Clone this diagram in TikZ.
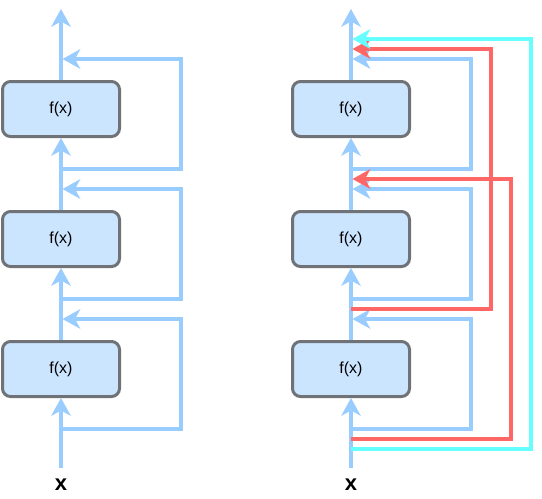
\documentclass[tikz,border=0pt]{standalone}
\usepackage{fontspec}
\setmainfont{Liberation Sans}
\usetikzlibrary{arrows.meta}
\definecolor{flowblue}{HTML}{99CCFF}
\definecolor{skipred}{HTML}{FF6666}
\definecolor{skipcyan}{HTML}{66FFFF}
\definecolor{boxfill}{HTML}{CCE5FF}
\definecolor{boxline}{HTML}{6F7377}
\tikzset{
  fx/.style={draw=boxline, fill=boxfill, line width=3pt, rounded corners=8pt,
    minimum width=117pt, minimum height=55pt, inner sep=0pt,
    font=\fontsize{16}{18}\selectfont},
  flow/.style={draw=flowblue, line width=4pt,
    -{Stealth[length=18pt,width=20pt,inset=5.5pt,line width=0pt]}},
  skipb/.style={flow},
  skipr/.style={flow, draw=skipred},
  skipc/.style={flow, draw=skipcyan},
  lbl/.style={font=\bfseries\fontsize{22}{24}\selectfont, inner sep=0pt}
}
\begin{document}
\begin{tikzpicture}[x=1pt,y=-1pt]
\useasboundingbox (0,0) rectangle (542,499);

% ---------- left column ----------
\node[fx] (a1) at (61,369) {f(x)};
\node[fx] (a2) at (61,239) {f(x)};
\node[fx] (a3) at (61,109) {f(x)};
\node[lbl] (xa) at (61,485) {x};
\coordinate (ain) at (61,468);
\coordinate (aout) at (61,9);

\draw[flow] (ain) -- (a1.south);
\draw[flow] (a1.north) -- (a2.south);
\draw[flow] (a2.north) -- (a3.south);
\draw[flow] (a3.north) -- (aout);

\coordinate (as1) at (61,429);  \coordinate (ae1) at (62.5,319);
\coordinate (as2) at (61,299);  \coordinate (ae2) at (62.5,189);
\coordinate (as3) at (61,169);  \coordinate (ae3) at (62.5,59);
\draw[skipb] (as1) -- (181,429) -- (181,319) -- (ae1);
\draw[skipb] (as2) -- (181,299) -- (181,189) -- (ae2);
\draw[skipb] (as3) -- (181,169) -- (181,59) -- (ae3);

% ---------- right column ----------
\node[fx] (b1) at (351,369) {f(x)};
\node[fx] (b2) at (351,239) {f(x)};
\node[fx] (b3) at (351,109) {f(x)};
\node[lbl] (xb) at (351,485) {x};
\coordinate (bin) at (351,468);
\coordinate (bout) at (351,9);

\draw[flow] (bin) -- (b1.south);
\draw[flow] (b1.north) -- (b2.south);
\draw[flow] (b2.north) -- (b3.south);
\draw[flow] (b3.north) -- (bout);

\coordinate (bs1) at (351,429);  \coordinate (be1) at (352.5,319);
\coordinate (bs2) at (351,299);  \coordinate (be2) at (352.5,189);
\coordinate (bs3) at (351,169);  \coordinate (be3) at (352.5,59);
\draw[skipb] (bs1) -- (471,429) -- (471,319) -- (be1);
\draw[skipb] (bs2) -- (471,299) -- (471,189) -- (be2);
\draw[skipb] (bs3) -- (471,169) -- (471,59) -- (be3);

\coordinate (rs1) at (351,309);  \coordinate (re1) at (352.5,49);
\coordinate (rs2) at (351,439);  \coordinate (re2) at (352.5,179);
\draw[skipr] (rs1) -- (491,309) -- (491,49) -- (re1);
\draw[skipr] (rs2) -- (511,439) -- (511,179) -- (re2);

\coordinate (cs1) at (351,449);  \coordinate (ce1) at (352.5,39);
\draw[skipc] (cs1) -- (531,449) -- (531,39) -- (ce1);
\end{tikzpicture}
\end{document}
